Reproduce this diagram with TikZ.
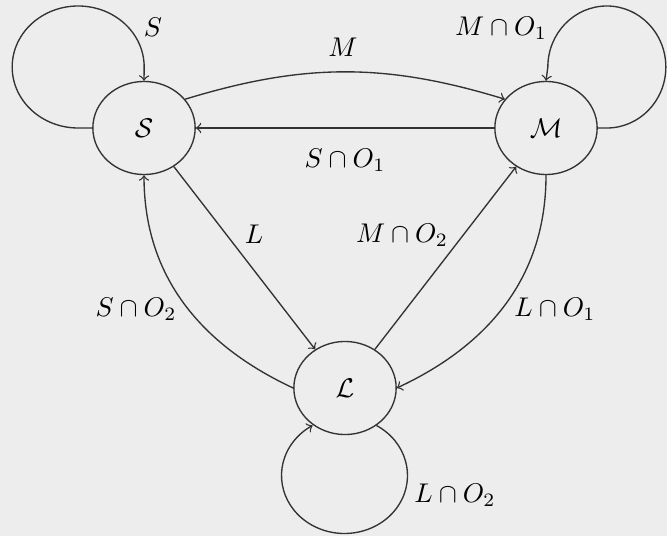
\documentclass[tikz,border=0pt]{standalone}
\usetikzlibrary{shapes.geometric}
\begin{document}
\begin{tikzpicture}[x=0.013cm,y=0.013cm,
  state/.style={ellipse,draw=black!80,line width=0.5pt,minimum width=1.33cm,minimum height=1.21cm,inner sep=0pt},
  trans/.style={->,draw=black!80,line width=0.5pt}]
\fill[black!7] (0,0) rectangle (667,536);
\useasboundingbox (0,0) rectangle (667,536);
\node[state] (S) at (144,408) {$\mathcal{S}$};
\node[state] (M) at (546,408) {$\mathcal{M}$};
\node[state] (L) at (345,148) {$\mathcal{L}$};
% self loops
\draw[trans] (S.west) -- ++(-14,0) arc[start angle=-90,end angle=-360,x radius=66,y radius=61] -- (S.north);
\draw[trans] (M.east) -- ++(9,0) arc[start angle=-90,end angle=180,x radius=59,y radius=61] -- (M.north);
\draw[trans] (L.-50) arc[start angle=59.5,end angle=-239.5,x radius=63,y radius=58];
% transitions
\draw[trans] (S.35) to[out=17,in=163] (M.145);
\draw[trans] (M) -- (S);
\draw[trans] (S) -- (L);
\draw[trans] (L) -- (M);
\draw[trans] (L.west) to[out=155,in=-90] (S.south);
\draw[trans] (M.south) to[out=-90,in=25] (L.east);
% labels
\node (lS) at (153,509) {$S$};
\node (lM) at (343,489) {$M$};
\node (lMO1) at (501,508) {$M\cap O_1$};
\node (lSO1) at (345,376) {$S\cap O_1$};
\node (lL) at (254,302) {$L$};
\node (lMO2) at (402,301) {$M\cap O_2$};
\node (lSO2) at (136,227) {$S\cap O_2$};
\node (lLO1) at (555,227) {$L\cap O_1$};
\node (lLO2) at (455,41) {$L\cap O_2$};
\end{tikzpicture}
\end{document}
